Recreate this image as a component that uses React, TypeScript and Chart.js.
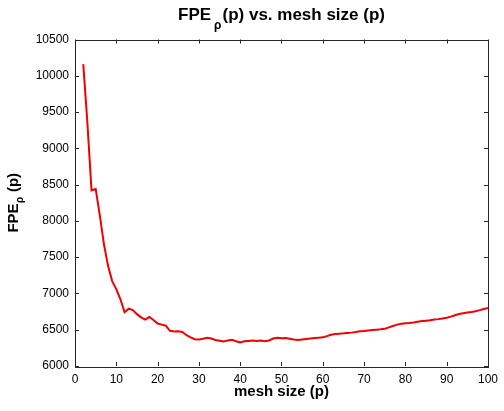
import React, { useEffect, useRef } from "react";
import { Chart, registerables } from "chart.js";

Chart.register(...registerables);

const meshSizes = [
  2, 3, 4, 5, 6, 7, 8, 9, 10, 11, 12, 13, 14, 15, 16, 17, 18, 19, 20,
  21, 22, 23, 24, 25, 26, 27, 28, 29, 30, 31, 32, 33, 34, 35, 36, 37, 38, 39, 40,
  41, 42, 43, 44, 45, 46, 47, 48, 49, 50, 51, 52, 53, 54, 55, 56, 57, 58, 59, 60,
  61, 62, 63, 64, 65, 66, 67, 68, 69, 70, 71, 72, 73, 74, 75, 76, 77, 78, 79, 80,
  81, 82, 83, 84, 85, 86, 87, 88, 89, 90, 91, 92, 93, 94, 95, 96, 97, 98, 99, 100,
];

const fpeValues = [
  10160, 9350, 8420, 8440, 8080, 7680, 7380, 7170, 7060, 6920, 6740, 6790, 6770, 6715, 6670, 6640, 6675, 6635, 6585,
  6570, 6555, 6485, 6475, 6478, 6470, 6425, 6395, 6370, 6365, 6375, 6388, 6378, 6358, 6348, 6338, 6352, 6362, 6342, 6325,
  6340, 6346, 6350, 6344, 6350, 6340, 6352, 6378, 6390, 6382, 6386, 6376, 6366, 6360, 6366, 6372, 6378, 6385, 6390, 6396,
  6412, 6430, 6442, 6446, 6450, 6456, 6460, 6468, 6480, 6484, 6490, 6496, 6500, 6505, 6512, 6532, 6552, 6570, 6583, 6590,
  6594, 6600, 6610, 6620, 6625, 6630, 6640, 6646, 6655, 6665, 6680, 6700, 6716, 6728, 6737, 6745, 6756, 6770, 6786, 6800,
];

const xTicks = [0, 10, 20, 30, 40, 50, 60, 70, 80, 90, 100];
const yTicks = [6000, 6500, 7000, 7500, 8000, 8500, 9000, 9500, 10000, 10500];

const titleMain = "FPE";
const titleSub = "ρ";
const titleRest = "(p) vs. mesh size (p)";
const yLabelMain = "FPE";
const yLabelSub = "ρ";
const yLabelRest = " (p)";
const xLabel = "mesh size (p)";

const FONT = "'Liberation Sans', Arial, sans-serif";
const AXIS_COLOR = "#262626";

const matlabPlugin = {
  id: "matlabDecor",
  afterDraw(chart: any) {
    const ctx = chart.ctx as CanvasRenderingContext2D;
    const { left, right, top, bottom } = chart.chartArea;
    const xs = chart.scales.x;
    const ys = chart.scales.y;
    ctx.save();
    // box
    ctx.strokeStyle = AXIS_COLOR;
    ctx.lineWidth = 1;
    ctx.strokeRect(Math.round(left) + 0.5, Math.round(top) + 0.5, Math.round(right - left), Math.round(bottom - top));
    // inward ticks
    const tl = 4;
    ctx.beginPath();
    xTicks.forEach((v) => {
      const px = Math.round(xs.getPixelForValue(v)) + 0.5;
      ctx.moveTo(px, bottom);
      ctx.lineTo(px, bottom - tl);
      ctx.moveTo(px, top);
      ctx.lineTo(px, top + tl);
    });
    yTicks.forEach((v) => {
      const py = Math.round(ys.getPixelForValue(v)) + 0.5;
      ctx.moveTo(left, py);
      ctx.lineTo(left + tl, py);
      ctx.moveTo(right, py);
      ctx.lineTo(right - tl, py);
    });
    ctx.stroke();

    ctx.fillStyle = "#000";
    ctx.textBaseline = "alphabetic";
    // title
    const bigT = "bold 17px " + FONT;
    const subT = "bold 12px " + FONT;
    ctx.font = bigT;
    const w1 = ctx.measureText(titleMain).width;
    const w3 = ctx.measureText(titleRest).width;
    ctx.font = subT;
    const w2 = ctx.measureText(titleSub).width + 4;
    const cx = (left + right) / 2;
    const x0 = cx - (w1 + w2 + w3) / 2;
    const tBase = 20;
    ctx.textAlign = "left";
    ctx.font = bigT;
    ctx.fillText(titleMain, x0, tBase);
    ctx.font = subT;
    ctx.fillText(titleSub, x0 + w1 + 3, tBase + 9);
    ctx.font = bigT;
    ctx.fillText(titleRest, x0 + w1 + w2, tBase);

    // x label
    ctx.font = "bold 15px " + FONT;
    ctx.textAlign = "center";
    ctx.fillText(xLabel, cx, 396);

    // y label
    const bigY = "bold 15px " + FONT;
    const subY = "bold 10px " + FONT;
    ctx.font = bigY;
    const a1 = ctx.measureText(yLabelMain).width;
    const a3 = ctx.measureText(yLabelRest).width;
    ctx.font = subY;
    const a2 = ctx.measureText(yLabelSub).width + 1;
    const cy = (top + bottom) / 2;
    ctx.translate(18, cy);
    ctx.rotate(-Math.PI / 2);
    const s0 = -(a1 + a2 + a3) / 2;
    ctx.textAlign = "left";
    ctx.font = bigY;
    ctx.fillText(yLabelMain, s0, 0);
    ctx.font = subY;
    ctx.fillText(yLabelSub, s0 + a1 + 0.5, 5);
    ctx.font = bigY;
    ctx.fillText(yLabelRest, s0 + a1 + a2, 0);
    ctx.restore();
  },
};

export default function App() {
  const canvasRef = useRef<HTMLCanvasElement | null>(null);

  useEffect(() => {
    const canvas = canvasRef.current;
    if (!canvas) return;
    const points = meshSizes.map((m, i) => ({ x: m, y: fpeValues[i] }));
    const chart = new Chart(canvas, {
      type: "line",
      data: {
        datasets: [
          {
            data: points,
            borderColor: "#f00000",
            borderWidth: 2,
            pointRadius: 0,
            tension: 0,
            fill: false,
          },
        ],
      },
      options: {
        responsive: false,
        animation: false,
        events: [],
        layout: { padding: { top: 39.5, right: 10, left: 0, bottom: 0 } },
        plugins: {
          legend: { display: false },
          title: { display: false },
          tooltip: { enabled: false },
        },
        scales: {
          x: {
            type: "linear",
            min: 0,
            max: 100,
            afterBuildTicks: (scale: any) => {
              scale.ticks = xTicks.map((v) => ({ value: v }));
            },
            afterFit: (scale: any) => {
              scale.height = 45;
            },
            grid: { display: false, drawTicks: false },
            border: { display: false },
            ticks: {
              padding: 6,
              color: "#000",
              font: { family: FONT, size: 12 },
              maxRotation: 0,
              autoSkip: false,
            },
          },
          y: {
            type: "linear",
            min: 6000,
            max: 10500,
            afterBuildTicks: (scale: any) => {
              scale.ticks = yTicks.map((v) => ({ value: v }));
            },
            afterFit: (scale: any) => {
              scale.width = 75;
            },
            grid: { display: false, drawTicks: false },
            border: { display: false },
            ticks: {
              padding: 6,
              color: "#000",
              font: { family: FONT, size: 12 },
              autoSkip: false,
              callback: (v: any) => String(v),
            },
          },
        },
      },
      plugins: [matlabPlugin],
    });
    return () => chart.destroy();
  }, []);

  return (
    <div style={{ position: "absolute", left: 0, top: 0, width: 504, height: 411, background: "#fff" }}>
      <canvas ref={canvasRef} width={504} height={411} style={{ display: "block" }} />
    </div>
  );
}
